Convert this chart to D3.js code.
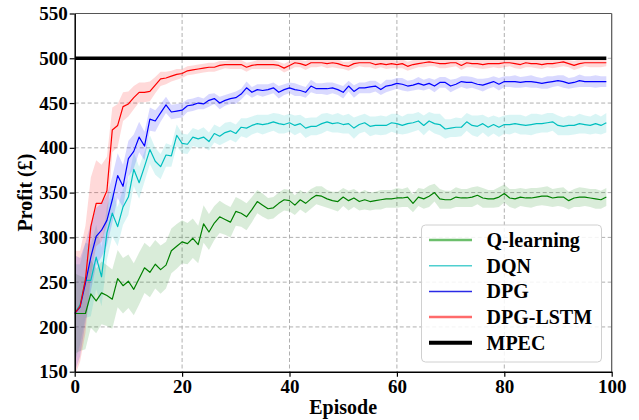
<!DOCTYPE html>
<html lang="en">
<head>
<meta charset="utf-8">
<script src="https://d3js.org/d3.v7.min.js"></script>
<style>
  body { margin: 0; background: #fff; }
  text { font-family: "Liberation Serif", "Times New Roman", serif; font-weight: bold; }
  .axis path, .axis line { stroke: #000; }
  .grid line { stroke: #b0b0b0; stroke-dasharray: 4,2.5; stroke-width: 1; }
</style>
</head>
<body>
<svg width="639" height="420"></svg>
<script>
  // episodes 0..99
  var episodes = d3.range(0, 100);

  var seriesNames = ["Q-learning", "DQN", "DPG", "DPG-LSTM", "MPEC"];
  var mpecValue = 500;
  var xTicks = [0, 20, 40, 60, 80, 100];
  var yTicks = [150, 200, 250, 300, 350, 400, 450, 500, 550];

  var qlearning = [215, 215, 215, 237, 229, 238, 235, 231, 254, 246, 251, 242, 254, 266, 261, 270, 264, 269, 285, 290,
    295, 293, 299, 292, 315, 306, 316, 323, 320, 317, 329, 327, 323, 331, 340, 336, 332, 333, 338, 342,
    341, 336, 342, 338, 343, 347, 346, 343, 341, 340, 345, 341, 344, 340, 342, 340, 341, 342, 343, 343,
    344, 344, 345, 338, 345, 343, 346, 350, 343, 342, 342, 345, 344, 344, 345, 347, 344, 343, 343, 345,
    349, 344, 343, 345, 344, 344, 345, 346, 346, 344, 345, 345, 341, 344, 345, 345, 344, 343, 342, 345];
  var qlearningStd = [45, 42, 40, 38, 36, 35, 34, 33, 32, 31, 30, 29, 29, 28, 28, 27, 27, 26, 25, 25,
    24, 23, 22, 21, 21, 20, 19, 18, 17, 17, 16, 15, 15, 14, 13, 13, 12, 12, 12, 12,
    12, 11, 11, 11, 11, 10, 11, 10, 10, 11, 10, 11, 10, 10, 11, 10, 10, 11, 10, 10,
    11, 10, 11, 10, 10, 11, 12, 10, 11, 10, 10, 11, 10, 10, 11, 10, 11, 10, 10, 11,
    10, 10, 11, 10, 10, 11, 10, 10, 11, 10, 10, 11, 10, 10, 11, 10, 10, 11, 10, 10];

  var dqn = [215, 225, 252, 252, 278, 256, 305, 327, 312, 334, 345, 376, 361, 379, 398, 385, 379, 392, 391, 414,
    405, 404, 412, 410, 412, 407, 416, 413, 417, 419, 416, 423, 422, 425, 427, 426, 427, 429, 427, 426,
    428, 425, 427, 422, 424, 424, 427, 429, 427, 428, 426, 427, 422, 426, 428, 424, 425, 425, 425, 428,
    427, 425, 427, 428, 430, 425, 430, 427, 426, 421, 422, 423, 423, 429, 425, 424, 427, 423, 426, 423,
    426, 426, 427, 426, 425, 426, 427, 427, 428, 429, 425, 424, 425, 425, 427, 426, 425, 427, 425, 428];
  var dqnStd = [55, 45, 42, 40, 36, 33, 30, 26, 22, 20, 20, 19, 18, 17, 16, 15, 14, 13, 12, 12,
    11, 11, 10, 10, 11, 10, 10, 10, 11, 10, 10, 10, 11, 10, 10, 11, 10, 10, 11, 10,
    10, 11, 10, 11, 10, 10, 11, 10, 10, 11, 10, 11, 12, 10, 10, 11, 10, 11, 10, 10,
    11, 10, 11, 10, 10, 11, 10, 11, 12, 11, 10, 11, 10, 10, 11, 12, 10, 11, 10, 11,
    10, 11, 10, 11, 10, 12, 11, 10, 11, 10, 11, 10, 11, 10, 11, 10, 10, 11, 10, 11];

  var dpg = [215, 222, 249, 278, 301, 308, 319, 342, 369, 357, 388, 396, 412, 402, 432, 430, 439, 448, 440, 441,
    442, 447, 448, 450, 449, 453, 455, 450, 453, 455, 456, 460, 467, 462, 465, 464, 465, 467, 462, 465,
    467, 465, 464, 462, 469, 466, 466, 466, 467, 465, 462, 469, 463, 467, 467, 468, 469, 465, 469, 470,
    472, 471, 469, 470, 472, 470, 472, 469, 473, 473, 469, 471, 474, 473, 473, 471, 470, 472, 474, 471,
    474, 474, 474, 473, 474, 474, 473, 472, 473, 474, 475, 474, 472, 473, 475, 474, 474, 474, 474, 474];
  var dpgStd = [65, 55, 45, 38, 32, 30, 28, 26, 25, 24, 20, 19, 17, 16, 13, 12, 10, 9, 8, 8,
    8, 7, 7, 7, 6, 7, 6, 7, 6, 6, 7, 6, 7, 6, 6, 7, 6, 6, 7, 6,
    6, 7, 6, 6, 7, 6, 6, 7, 6, 6, 7, 6, 7, 6, 6, 7, 6, 6, 7, 6,
    6, 7, 6, 6, 7, 6, 6, 7, 6, 6, 7, 6, 6, 7, 6, 6, 7, 6, 6, 7,
    6, 6, 7, 6, 6, 7, 6, 6, 7, 6, 6, 7, 6, 6, 7, 6, 6, 7, 6, 6];

  var dpgLstm = [215, 223, 253, 312, 338, 338, 352, 420, 425, 446, 449, 456, 462, 462, 463, 470, 477, 478, 480, 482,
    483, 486, 487, 488, 489, 490, 490, 492, 493, 493, 493, 493, 490, 492, 493, 493, 493, 493, 492, 489,
    492, 495, 494, 492, 495, 495, 495, 494, 495, 494, 492, 491, 494, 495, 495, 495, 493, 494, 493, 494,
    493, 494, 491, 493, 494, 495, 496, 495, 494, 494, 495, 495, 492, 495, 494, 494, 493, 494, 494, 494,
    495, 495, 494, 493, 495, 494, 494, 493, 494, 494, 495, 496, 494, 492, 494, 495, 495, 495, 495, 495];
  var dpgLstmStd = [70, 62, 60, 55, 48, 43, 38, 25, 24, 16, 14, 13, 11, 11, 11, 9, 8, 7, 6, 6,
    5, 5, 5, 5, 5, 5, 5, 5, 4, 5, 5, 5, 5, 4, 5, 5, 5, 5, 4, 5,
    5, 5, 4, 5, 5, 5, 4, 5, 5, 5, 4, 5, 5, 4, 5, 5, 5, 4, 5, 5,
    4, 5, 5, 5, 4, 5, 5, 4, 5, 5, 5, 4, 5, 5, 4, 5, 5, 5, 4, 5,
    5, 4, 5, 5, 5, 4, 5, 5, 4, 5, 5, 5, 4, 5, 5, 4, 5, 5, 5, 4];

  var series = [
    { name: "Q-learning", mean: qlearning, std: qlearningStd, color: "#008000", band: "rgba(0,128,0,0.15)", legend: "#6cbf6c", lw: 2.5 },
    { name: "DQN", mean: dqn, std: dqnStd, color: "#00bfbf", band: "rgba(0,191,191,0.15)", legend: "#4fcfcf", lw: 1.5 },
    { name: "DPG", mean: dpg, std: dpgStd, color: "#0000ff", band: "rgba(0,0,255,0.15)", legend: "#2a2ae6", lw: 1.5 },
    { name: "DPG-LSTM", mean: dpgLstm, std: dpgLstmStd, color: "#ff0000", band: "rgba(255,0,0,0.15)", legend: "#ff6b6b", lw: 2.5 }
  ];

  var svg = d3.select("svg");
  var plotLeft = 74.7, plotRight = 611.7, plotTop = 13.5, plotBottom = 371.7;

  var x = d3.scaleLinear().domain([0, 100]).range([plotLeft, plotRight]);
  var y = d3.scaleLinear().domain([150, 550]).range([plotBottom, plotTop]);

  svg.append("clipPath").attr("id", "plot")
    .append("rect").attr("x", plotLeft).attr("y", plotTop)
    .attr("width", plotRight - plotLeft).attr("height", plotBottom - plotTop);

  // grid
  svg.append("g").attr("class", "grid")
    .selectAll("line").data(xTicks.slice(1, -1)).enter().append("line")
    .attr("x1", d => x(d)).attr("x2", d => x(d)).attr("y1", plotTop).attr("y2", plotBottom);
  svg.append("g").attr("class", "grid")
    .selectAll("line").data(yTicks.slice(1, -1)).enter().append("line")
    .attr("y1", d => y(d)).attr("y2", d => y(d)).attr("x1", plotLeft).attr("x2", plotRight);

  var plot = svg.append("g").attr("clip-path", "url(#plot)");

  series.forEach(function (s) {
    var area = d3.area()
      .x((d, i) => x(episodes[i]))
      .y0((d, i) => y(s.mean[i] - s.std[i]))
      .y1((d, i) => y(s.mean[i] + s.std[i]));
    plot.append("path").datum(s.mean).attr("d", area).attr("fill", s.band);
  });

  series.forEach(function (s) {
    var line = d3.line().x((d, i) => x(episodes[i])).y(d => y(d));
    plot.append("path").datum(s.mean).attr("d", line)
      .attr("fill", "none").attr("stroke", s.color).attr("stroke-width", 1.2)
      .attr("stroke-linejoin", "round");
  });

  plot.append("line")
    .attr("x1", x(episodes[0])).attr("x2", x(episodes[episodes.length - 1]))
    .attr("y1", y(mpecValue)).attr("y2", y(mpecValue))
    .attr("stroke", "#000").attr("stroke-width", 3.5);

  // frame
  svg.append("line").attr("x1", plotLeft).attr("x2", plotRight).attr("y1", plotTop).attr("y2", plotTop)
    .attr("stroke", "#555").attr("stroke-width", 1.2);
  svg.append("line").attr("x1", plotRight).attr("x2", plotRight).attr("y1", plotTop).attr("y2", plotBottom)
    .attr("stroke", "#555").attr("stroke-width", 1.2);

  var xAxis = svg.append("g").attr("class", "axis")
    .attr("transform", "translate(0," + plotBottom + ")")
    .call(d3.axisBottom(x).tickValues(xTicks).tickSize(5).tickPadding(2.5).tickSizeOuter(0));
  var yAxis = svg.append("g").attr("class", "axis")
    .attr("transform", "translate(" + plotLeft + ",0)")
    .call(d3.axisLeft(y).tickValues(yTicks).tickSize(5).tickPadding(2).tickSizeOuter(0));

  [xAxis, yAxis].forEach(function (a) {
    a.select(".domain").attr("stroke-width", 1.5);
    a.selectAll(".tick line").attr("stroke-width", 1.2);
    a.selectAll("text").attr("font-size", "19px").attr("fill", "#000")
      .attr("font-family", "'Liberation Serif', serif").attr("font-weight", "bold");
  });

  svg.append("text")
    .attr("x", (plotLeft + plotRight) / 2).attr("y", 413.5)
    .attr("text-anchor", "middle").attr("font-size", "20px")
    .text("Episode");

  svg.append("text")
    .attr("transform", "translate(32," + ((plotTop + plotBottom) / 2) + ") rotate(-90)")
    .attr("text-anchor", "middle").attr("font-size", "20px")
    .text("Profit (£)");

  // legend
  var legend = svg.append("g");
  legend.append("rect")
    .attr("x", 421.5).attr("y", 225).attr("width", 180).attr("height", 137)
    .attr("rx", 4).attr("fill", "#fff").attr("fill-opacity", 0.85)
    .attr("stroke", "#d0d0d0").attr("stroke-width", 1);

  var legendItems = series.map(s => ({ name: s.name, color: s.legend, lw: s.lw }))
    .concat([{ name: seriesNames[4], color: "#000", lw: 4 }]);

  var rows = legend.selectAll("g.item").data(legendItems).enter().append("g")
    .attr("class", "item")
    .attr("transform", (d, i) => "translate(0," + (240 + i * 25.7) + ")");
  rows.append("line").attr("x1", 429).attr("x2", 472).attr("y1", 0).attr("y2", 0)
    .attr("stroke", d => d.color).attr("stroke-width", d => d.lw);
  rows.append("text").attr("x", 486.5).attr("y", 7)
    .attr("font-size", "20px").text(d => d.name);
</script>
</body>
</html>
